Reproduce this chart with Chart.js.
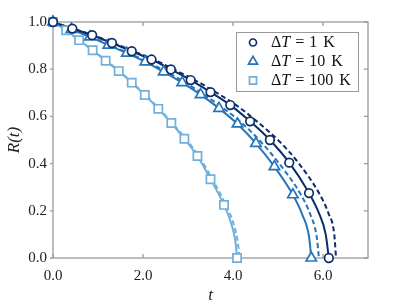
<!DOCTYPE html>
<html lang="en">
<head>
<meta charset="UTF-8">
<title>R(t)</title>
<script src="https://cdn.jsdelivr.net/npm/chart.js"></script>
<style>
  html, body { margin: 0; padding: 0; background: #fff; }
  #wrap { width: 407px; height: 304px; }
</style>
</head>
<body>
<div id="wrap"><canvas id="radiusChart"></canvas></div>
<script>
// marker readings (t, R) for each temperature difference
const t1K = [0, 0.43, 0.87, 1.31, 1.75, 2.19, 2.62, 3.06, 3.50, 3.94, 4.38, 4.82, 5.25, 5.69, 6.13];
const r1K = [1, 0.972, 0.944, 0.911, 0.876, 0.841, 0.799, 0.754, 0.703, 0.648, 0.579, 0.500, 0.404, 0.275, 0];
const t10K = [0, 0.41, 0.82, 1.23, 1.64, 2.05, 2.46, 2.87, 3.28, 3.69, 4.10, 4.51, 4.92, 5.33, 5.74];
const r10K = [1, 0.969, 0.937, 0.902, 0.868, 0.831, 0.789, 0.743, 0.692, 0.634, 0.568, 0.486, 0.387, 0.268, 0];
const t100K = [0, 0.29, 0.58, 0.88, 1.17, 1.46, 1.75, 2.04, 2.34, 2.63, 2.92, 3.21, 3.50, 3.80, 4.09];
const r100K = [1, 0.965, 0.923, 0.880, 0.836, 0.792, 0.743, 0.691, 0.632, 0.572, 0.505, 0.432, 0.334, 0.225, 0];

// extra points on the solid curves between the last two markers
const t1KTail = [5.91, 6.06];
const r1KTail = [0.19, 0.10];
const t10KTail = [5.535, 5.69];
const r10KTail = [0.186, 0.09];
const t100KTail = [3.945, 4.05];
const r100KTail = [0.155, 0.075];

// dashed curves (same R levels as the solid ones, read t)
const tFit1K = [0, 0.44, 0.89, 1.34, 1.79, 2.24, 2.69, 3.15, 3.61, 4.07, 4.53, 5.00, 5.45, 5.91, 6.12, 6.25, 6.29];
const tFit10K = [0, 0.42, 0.84, 1.26, 1.68, 2.10, 2.52, 2.94, 3.36, 3.79, 4.22, 4.65, 5.08, 5.51, 5.715, 5.86, 5.91];
const tFit100K = [0, 0.29, 0.58, 0.89, 1.18, 1.47, 1.76, 2.06, 2.36, 2.65, 2.95, 3.24, 3.54, 3.84, 3.995, 4.10, 4.15];

const labels = ['1', '10', '100'];
const xTicks = [0, 2, 4, 6];

const colors = ['#0b2d6b', '#2775b8', '#6fb0dc'];
const styles = ['circle', 'triangle', 'rect'];
const radii = [4.3, 6, 5.8];

function pts(ts, rs) {
  return ts.map((t, i) => ({ x: t, y: rs[i] }));
}
function fullCurve(ts, rs, tt, rt) {
  return pts(ts, rs).concat(pts(tt, rt)).sort((a, b) => a.x - b.x);
}

const solid = [
  fullCurve(t1K, r1K, t1KTail, r1KTail),
  fullCurve(t10K, r10K, t10KTail, r10KTail),
  fullCurve(t100K, r100K, t100KTail, r100KTail)
];
const fitT = [tFit1K, tFit10K, tFit100K];
const markers = [pts(t1K, r1K), pts(t10K, r10K), pts(t100K, r100K)];

const datasets = [];
for (let i = 0; i < 3; i++) {
  datasets.push({
    data: fitT[i].map((t, j) => ({ x: t, y: solid[i][j].y })),
    borderColor: colors[i], borderWidth: 2, borderDash: [5, 3],
    pointRadius: 0, cubicInterpolationMode: 'monotone', order: 10 + i
  });
  datasets.push({
    data: solid[i],
    borderColor: colors[i], borderWidth: 2,
    pointRadius: 0, cubicInterpolationMode: 'monotone', order: 5 + i
  });
  datasets.push({
    data: markers[i], showLine: false, clip: false,
    pointStyle: styles[i], pointRadius: radii[i], pointBorderWidth: 1.7,
    pointBackgroundColor: '#fff', pointBorderColor: colors[i], order: i
  });
}

const serif = '"Liberation Serif", "DejaVu Serif", serif';
const frameColor = '#9a9a9a';

const frame = {
  id: 'frame',
  beforeDatasetsDraw(chart) {
    const ctx = chart.ctx, a = chart.chartArea;
    const xs = chart.scales.x, ys = chart.scales.y;
    ctx.save();
    ctx.strokeStyle = frameColor;
    ctx.lineWidth = 1.3;
    ctx.strokeRect(a.left, a.top, a.right - a.left, a.bottom - a.top);
    ctx.beginPath();
    xTicks.forEach(v => {
      const px = xs.getPixelForValue(v);
      ctx.moveTo(px, a.bottom); ctx.lineTo(px, a.bottom - 4);
      ctx.moveTo(px, a.top); ctx.lineTo(px, a.top + 4);
    });
    ys.ticks.forEach(tk => {
      const py = ys.getPixelForValue(tk.value);
      ctx.moveTo(a.left - 3, py); ctx.lineTo(a.left, py);
      ctx.moveTo(a.right, py); ctx.lineTo(a.right - 4, py);
    });
    ctx.stroke();
    ctx.restore();
  },
  afterDraw(chart) {
    const ctx = chart.ctx, a = chart.chartArea;
    ctx.save();
    // legend
    const bw = 122, bh = 59;
    const bx = a.right - 10 - bw, by = a.top + 10;
    ctx.fillStyle = '#fff';
    ctx.fillRect(bx, by, bw, bh);
    ctx.strokeStyle = '#9a9a9a';
    ctx.lineWidth = 1;
    ctx.strokeRect(bx + 0.5, by + 0.5, bw, bh);
    labels.forEach((lab, i) => {
      const cy = by + 10.5 + i * 19;
      ctx.fillStyle = '#fff';
      ctx.strokeStyle = colors[i];
      ctx.lineWidth = 1.7;
      Chart.helpers.drawPoint(ctx, { pointStyle: styles[i], radius: radii[i] - 0.8, rotation: 0, borderWidth: 1.7 }, bx + 17, cy);
      ctx.fillStyle = '#111';
      ctx.textBaseline = 'middle';
      let x = bx + 35;
      ctx.font = '16px ' + serif;
      ctx.fillText('Δ', x, cy); x += ctx.measureText('Δ').width;
      ctx.font = 'italic 16px ' + serif;
      ctx.fillText('T', x, cy); x += ctx.measureText('T').width + 5;
      ctx.font = '16px ' + serif;
      ctx.fillText('=', x, cy); x += ctx.measureText('=').width + 5;
      ctx.fillText(lab, x, cy); x += ctx.measureText(lab).width + 6;
      ctx.fillText('K', x, cy);
    });
    ctx.restore();
  }
};

new Chart(document.getElementById('radiusChart'), {
  type: 'line',
  data: { datasets: datasets },
  plugins: [frame],
  options: {
    responsive: true,
    maintainAspectRatio: false,
    animation: false,
    layout: { padding: { left: 0, right: 39, top: 22, bottom: 0 } },
    plugins: { legend: { display: false }, tooltip: { enabled: false } },
    scales: {
      x: {
        type: 'linear', min: 0, max: 7,
        afterFit: s => { s.height = 46; },
        afterBuildTicks: s => { s.ticks = xTicks.map(v => ({ value: v })); },
        grid: { display: false, drawTicks: false }, border: { display: false },
        ticks: { font: { family: serif, size: 15 }, color: '#222', padding: 9, callback: v => v.toFixed(1) },
        title: { display: true, text: 't', font: { family: serif, size: 17, style: 'italic' }, color: '#222', padding: { top: 0, bottom: -2 } }
      },
      y: {
        type: 'linear', min: 0, max: 1,
        afterFit: s => { s.width = 53; },
        grid: { display: false, drawTicks: false }, border: { display: false },
        ticks: { stepSize: 0.2, font: { family: serif, size: 15 }, color: '#222', padding: 6, callback: v => v.toFixed(1) },
        title: { display: true, text: 'R(t)', font: { family: serif, size: 17, style: 'italic' }, color: '#222', padding: { bottom: 2 } }
      }
    }
  }
});
</script>
</body>
</html>
